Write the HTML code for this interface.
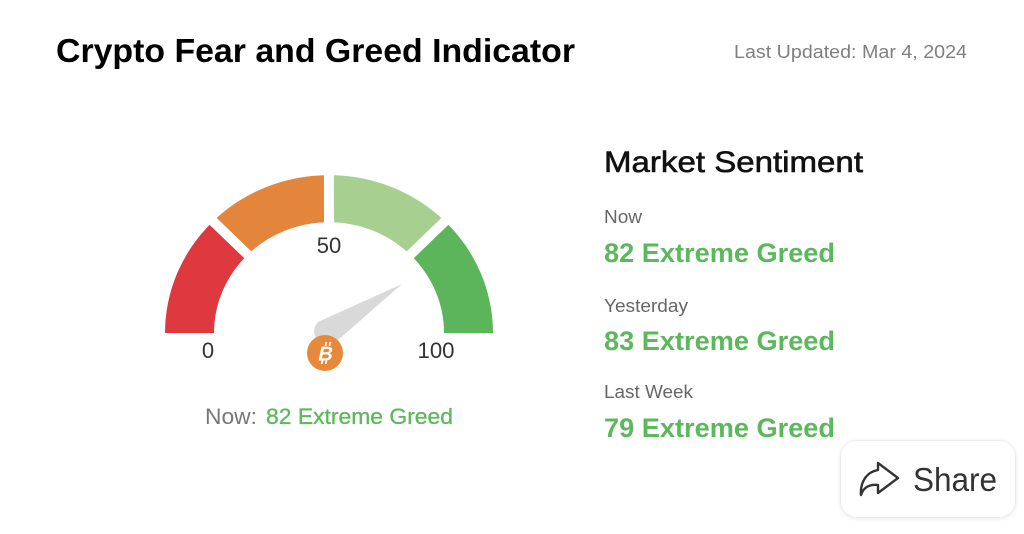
<!DOCTYPE html>
<html><head><meta charset="utf-8"><style>
html,body{margin:0;padding:0;background:#fff;width:1024px;height:534px;overflow:hidden}
svg{display:block}
text{font-family:"Liberation Sans",Arial,sans-serif}
</style></head><body>
<svg width="1024" height="534" viewBox="0 0 1024 534" xmlns="http://www.w3.org/2000/svg">
<rect width="1024" height="534" fill="#fff"/>
<text x="56" y="62" font-size="33" font-weight="bold" fill="#000" textLength="519" lengthAdjust="spacingAndGlyphs">Crypto Fear and Greed Indicator</text>
<text x="734" y="58" font-size="18" fill="#808080" textLength="233" lengthAdjust="spacingAndGlyphs">Last Updated: Mar 4, 2024</text>

<g transform="translate(329,333) scale(1,0.963)">
<path d="M-164,0 A164,164 0 0 1 -115.97,-115.97 L-81.32,-81.32 A115,115 0 0 0 -115,0 Z" fill="#dd393f"/>
<path d="M-115.97,-115.97 A164,164 0 0 1 0,-164 L0,-115 A115,115 0 0 0 -81.32,-81.32 Z" fill="#e3853b"/>
<path d="M0,-164 A164,164 0 0 1 115.97,-115.97 L81.32,-81.32 A115,115 0 0 0 0,-115 Z" fill="#a7cf8f"/>
<path d="M115.97,-115.97 A164,164 0 0 1 164,0 L115,0 A115,115 0 0 0 81.32,-81.32 Z" fill="#5db55b"/>
<g stroke="#fff" stroke-width="10">
<line x1="0" y1="0" x2="0" y2="-175"/>
<line x1="0" y1="0" x2="124" y2="-124"/>
<line x1="0" y1="0" x2="-124" y2="-124"/>
</g>
</g>

<text x="208" y="358" font-size="22" fill="#333" text-anchor="middle">0</text>
<text x="329" y="253" font-size="22" fill="#333" text-anchor="middle">50</text>
<text x="436" y="358" font-size="22" fill="#333" text-anchor="middle" textLength="37" lengthAdjust="spacingAndGlyphs">100</text>

<path d="M402,284 L318,322 A13,13 0 0 0 337,341 Z" fill="#d9d9d9"/>
<circle cx="325" cy="353" r="18" fill="#e7893a"/>
<g transform="translate(325,353) skewX(-12)">
<line x1="-1" y1="-11" x2="-1" y2="-7" stroke="#fff" stroke-width="1.8"/>
<line x1="3" y1="-11" x2="3" y2="-7" stroke="#fff" stroke-width="1.8"/>
<line x1="-1" y1="7" x2="-1" y2="11" stroke="#fff" stroke-width="1.8"/>
<line x1="3" y1="7" x2="3" y2="11" stroke="#fff" stroke-width="1.8"/>
<text x="1" y="7.5" font-size="20" font-weight="bold" fill="#fff" text-anchor="middle">B</text>
</g>

<text x="205" y="424" font-size="22" fill="#777" textLength="52" lengthAdjust="spacingAndGlyphs">Now:</text>
<text x="266" y="424" font-size="22" fill="#5cb85c" stroke="#5cb85c" stroke-width="0.3" textLength="187" lengthAdjust="spacingAndGlyphs">82 Extreme Greed</text>

<text x="604" y="172" font-size="30" fill="#111" stroke="#111" stroke-width="0.6" textLength="259" lengthAdjust="spacingAndGlyphs">Market Sentiment</text>

<text x="604" y="223" font-size="18" fill="#666" textLength="38" lengthAdjust="spacingAndGlyphs">Now</text>
<text x="604" y="262" font-size="27" font-weight="bold" fill="#5cb85c" textLength="231" lengthAdjust="spacingAndGlyphs">82 Extreme Greed</text>

<text x="604" y="312" font-size="18" fill="#666" textLength="84" lengthAdjust="spacingAndGlyphs">Yesterday</text>
<text x="604" y="350" font-size="27" font-weight="bold" fill="#5cb85c" textLength="231" lengthAdjust="spacingAndGlyphs">83 Extreme Greed</text>

<text x="604" y="398" font-size="18" fill="#666" textLength="89" lengthAdjust="spacingAndGlyphs">Last Week</text>
<text x="604" y="437" font-size="27" font-weight="bold" fill="#5cb85c" textLength="231" lengthAdjust="spacingAndGlyphs">79 Extreme Greed</text>

<defs>
<filter id="sh" x="-20%" y="-20%" width="140%" height="140%">
<feDropShadow dx="0" dy="1" stdDeviation="2" flood-color="#000" flood-opacity="0.08"/>
</filter>
</defs>
<rect x="840.5" y="440.5" width="175" height="77" rx="16" ry="16" fill="#fff" stroke="#ececec" stroke-width="1" filter="url(#sh)"/>
<path d="M878,463 L898,478 L878,493 L878,485 C869,484 863,488 861,495 C860,483 866,472 878,470 Z" fill="none" stroke="#333" stroke-width="2.4" stroke-linejoin="round"/>
<text x="913" y="491" font-size="33" fill="#333" textLength="84" lengthAdjust="spacingAndGlyphs">Share</text>
</svg>
</body></html>
